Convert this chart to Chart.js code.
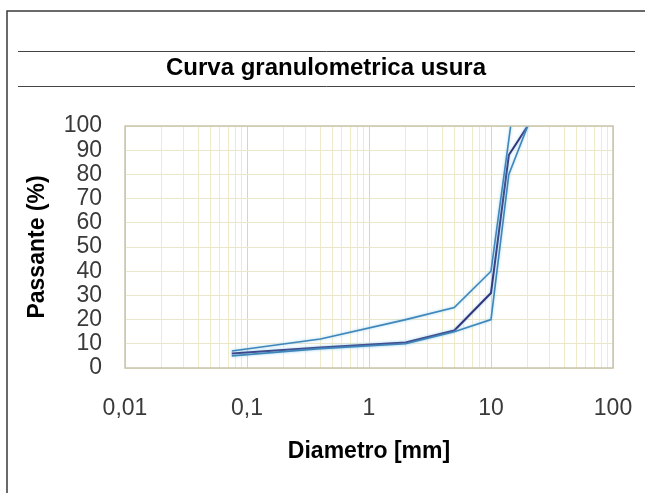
<!DOCTYPE html>
<html>
<head>
<meta charset="utf-8">
<title>Curva granulometrica usura</title>
<script src="https://cdn.jsdelivr.net/npm/chart.js@4.4.1/dist/chart.umd.min.js"></script>
<style>
  html, body { margin: 0; padding: 0; background: #fff; }
  #wrap { width: 645px; height: 493px; }
</style>
</head>
<body>
<div id="wrap"><canvas id="curveChart" width="645" height="493"></canvas></div>
<script>
// sieve size (mm) vs passing (%)
const upperSizes = [0.075, 0.4, 2, 5, 10, 14.5];
const upperPass  = [7, 12, 20, 25, 40, 100];
const lowerSizes = [0.075, 0.4, 2, 5, 10, 14, 20];
const lowerPass  = [5, 8, 10, 15, 20, 80, 100];
const mixSizes   = [0.075, 0.4, 2, 5, 10, 14, 20];
const mixPass    = [6, 8.5, 10.5, 15.5, 31, 88, 100];

// axis ticks
const xDecades      = [0.01, 0.1, 1, 10, 100];
const xDecadeLabels = ["0,01", "0,1", "1", "10", "100"];
const xMinorSteps   = [2, 3, 4, 5, 6, 7, 8, 9];
const yTickValues   = [0, 10, 20, 30, 40, 50, 60, 70, 80, 90, 100];

const chartTitle = "Curva granulometrica usura";
const xTitle = "Diametro [mm]";
const yTitle = "Passante (%)";

const FONT = "'Liberation Sans', Arial, sans-serif";

function toPoints(xs, ys) {
  return xs.map((x, i) => ({ x: x, y: ys[i] }));
}

// all log grid positions: decades + 2..9 in between
function buildLogTicks() {
  const ticks = [];
  xDecades.forEach((d, i) => {
    ticks.push({ value: d, major: true });
    if (i < xDecades.length - 1) {
      xMinorSteps.forEach((m) => ticks.push({ value: d * m, major: false }));
    }
  });
  return ticks;
}

function decadeLabel(value) {
  const idx = xDecades.findIndex((d) => Math.abs(d - value) / d < 1e-6);
  return idx >= 0 ? xDecadeLabels[idx] : "";
}

/* ---------- decorations: outer frame, title rules, plot box ---------- */

const framePlugin = {
  id: "frame",
  beforeDraw(chart) {
    const ctx = chart.ctx;
    ctx.save();
    ctx.fillStyle = "#ffffff";
    ctx.fillRect(0, 0, chart.width, chart.height);
    ctx.restore();
  },
  // soft halo round the curves, like the original export
  beforeDatasetsDraw(chart) {
    const ctx = chart.ctx;
    ctx.save();
    ctx.shadowColor = "rgba(130, 200, 235, 0.75)";
    ctx.shadowBlur = 3;
  },
  afterDatasetsDraw(chart) {
    chart.ctx.restore();
  },
  afterDraw(chart) {
    const ctx = chart.ctx;
    const a = chart.chartArea;
    ctx.save();

    // plot box
    ctx.strokeStyle = "#c9c5ac";
    ctx.lineWidth = 1.5;
    ctx.strokeRect(a.left, a.top, a.right - a.left, a.bottom - a.top);

    // outer border (left + top)
    ctx.strokeStyle = "#3a3a3a";
    ctx.lineWidth = 1.5;
    ctx.beginPath();
    ctx.moveTo(7, chart.height);
    ctx.lineTo(7, 11);
    ctx.lineTo(chart.width, 11);
    ctx.stroke();

    // title rules
    ctx.strokeStyle = "#444";
    ctx.lineWidth = 1;
    ctx.beginPath();
    ctx.moveTo(18, 51.5);
    ctx.lineTo(635, 51.5);
    ctx.moveTo(18, 86.5);
    ctx.lineTo(635, 86.5);
    ctx.stroke();

    // title
    ctx.fillStyle = "#000";
    ctx.font = "bold 24px " + FONT;
    ctx.textAlign = "center";
    ctx.textBaseline = "middle";
    ctx.fillText(chartTitle, 326, 68);
    ctx.restore();
  },
};

/* ---------- CHART ---------- */

const ctx = document.getElementById("curveChart").getContext("2d");

new Chart(ctx, {
  type: "line",
  data: {
    datasets: [
      {
        label: "Limite inferiore",
        data: toPoints(lowerSizes, lowerPass),
        borderColor: "#3f86ba",
        borderWidth: 1.6,
        pointRadius: 0,
        tension: 0,
      },
      {
        label: "Limite superiore",
        data: toPoints(upperSizes, upperPass),
        borderColor: "#3f86ba",
        borderWidth: 1.6,
        pointRadius: 0,
        tension: 0,
      },
      {
        label: "Miscela",
        data: toPoints(mixSizes, mixPass),
        borderColor: "#35337c",
        borderWidth: 2,
        pointRadius: 0,
        tension: 0,
      },
    ],
  },
  options: {
    responsive: false,
    animation: false,
    devicePixelRatio: 1,
    layout: { padding: { left: 0, right: 32, top: 126, bottom: 0 } },
    plugins: {
      legend: { display: false },
      title: { display: false },
      tooltip: { enabled: false },
    },
    scales: {
      x: {
        type: "logarithmic",
        min: 0.01,
        max: 100,
        afterBuildTicks(scale) {
          scale.ticks = buildLogTicks();
        },
        afterFit(scale) {
          scale.height = 125;
          // tick padding is vertical here, don't let it eat the right side
          scale.paddingLeft = 0;
          scale.paddingRight = 0;
        },
        ticks: {
          autoSkip: false,
          maxRotation: 0,
          padding: 27,
          color: "#3a3a3a",
          font: { family: FONT, size: 23 },
          callback: (value) => decadeLabel(value),
        },
        grid: {
          drawTicks: false,
          color: (c) => (c.tick && c.tick.major ? "#d9d6c0" : "#efeaca"),
          lineWidth: 1,
        },
        border: { display: false },
        title: {
          display: true,
          text: xTitle,
          color: "#000",
          font: { family: FONT, size: 23, weight: "bold" },
          padding: { top: 0, bottom: 28 },
        },
      },
      y: {
        min: 0,
        max: 100,
        afterBuildTicks(scale) {
          scale.ticks = yTickValues.map((v) => ({ value: v }));
        },
        afterFit(scale) {
          scale.width = 125;
        },
        ticks: {
          autoSkip: false,
          padding: 23,
          color: "#3a3a3a",
          font: { family: FONT, size: 23 },
        },
        grid: {
          drawTicks: false,
          color: "#ece7cb",
          lineWidth: 1,
        },
        border: { display: false },
        title: {
          display: true,
          text: yTitle,
          color: "#000",
          font: { family: FONT, size: 23, weight: "bold" },
          padding: { top: 24, bottom: 0 },
        },
      },
    },
  },
  plugins: [framePlugin],
});
</script>
</body>
</html>
